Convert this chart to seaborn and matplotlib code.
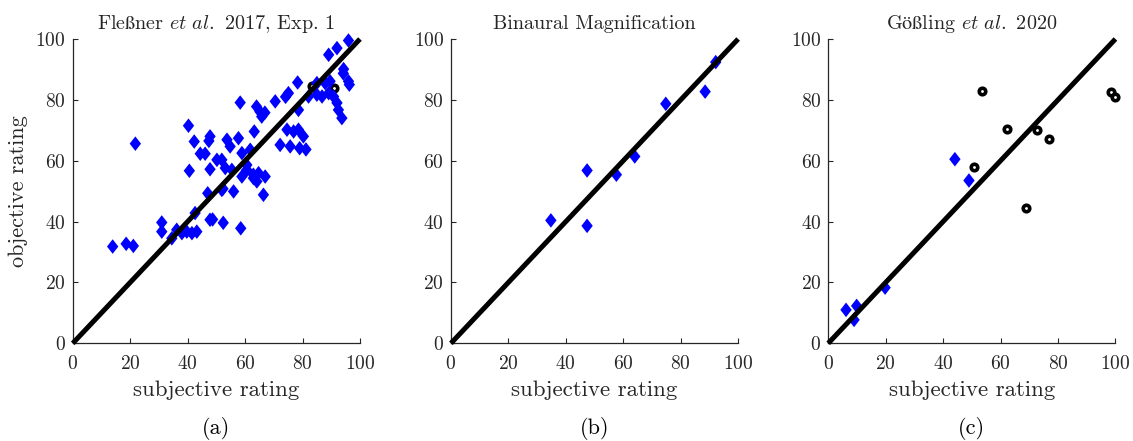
import numpy as np
import pandas as pd
import matplotlib
matplotlib.use("Agg")
import matplotlib.pyplot as plt
import seaborn as sns

# ---------------- data ----------------
# Panel (a): Fleßner et al. 2017, Exp. 1 (blue diamonds)
a_subj = [13.9, 18.6, 21.1, 21.8, 31.0, 31.0, 34.5, 36.2, 38.0, 39.7, 41.5, 43.2, 42.6,
          47.0, 47.8, 40.6, 48.7, 52.4, 58.5,
          58.3, 40.3, 42.3, 47.8, 47.4, 53.7, 54.8, 57.7, 63.2, 44.4, 46.1, 50.2, 51.9,
          47.8, 53.1, 55.4, 58.9, 61.8, 60.6, 58.9, 51.9, 52.3, 56.0, 62.9,
          78.3, 75.1, 74.1, 70.5, 64.0, 65.2, 66.9, 65.8, 78.6, 74.6, 76.9, 78.6, 80.3,
          72.2, 75.7, 79.0, 81.2, 60.6, 62.9, 64.7, 67.0, 64.1, 66.4,
          96.0, 92.0, 89.1, 94.3, 94.2, 96.0, 96.3, 85.0, 87.9, 89.6, 82.1, 85.0, 86.8,
          89.1, 90.8, 92.0, 92.5, 93.7]
a_obj = [31.8, 32.7, 32.0, 65.6, 39.7, 36.7, 34.5, 37.3, 36.2, 36.7, 36.2, 36.7, 42.8,
         49.3, 40.6, 56.7, 40.7, 39.6, 37.8,
         79.1, 71.5, 66.3, 68.0, 66.5, 66.9, 64.7, 67.4, 69.6, 62.3, 62.3, 60.3, 60.3,
         57.2, 57.6, 57.0, 62.5, 63.6, 58.6, 54.8, 50.4, 50.8, 49.9, 54.3,
         85.7, 82.2, 81.0, 79.5, 77.8, 76.1, 75.8, 74.5, 76.7, 70.2, 69.6, 70.2, 68.0,
         65.2, 64.7, 64.1, 63.7, 57.0, 55.4, 55.9, 54.8, 53.2, 48.8,
         99.5, 97.0, 94.8, 90.1, 88.7, 86.1, 85.0, 85.5, 85.5, 86.1, 81.1, 81.7, 81.1,
         82.2, 81.1, 79.0, 76.7, 74.0]
# Panel (a): black circles (mostly hidden)
a_circ_subj = [83.4, 91.1]
a_circ_obj = [84.6, 84.0]

# Panel (b): Binaural Magnification
b_subj = [34.8, 47.4, 47.4, 57.6, 64.0, 74.8, 88.5, 92.2]
b_obj = [40.4, 56.8, 38.6, 55.4, 61.4, 78.7, 82.7, 92.4]

# Panel (c): Gößling et al. 2020
c_dia_subj = [6.2, 9.9, 9.0, 19.8, 44.1, 49.0]
c_dia_obj = [11.0, 12.3, 7.7, 18.3, 60.5, 53.5]
c_circ_subj = [53.4, 50.8, 62.4, 72.7, 76.7, 69.0, 98.3, 100.0]
c_circ_obj = [82.9, 58.1, 70.4, 70.2, 67.3, 44.4, 82.5, 81.1]

diag = [0, 100]
ticks = [0, 20, 40, 60, 80, 100]
titles = ["Fle$\\mathrm{ß}$ner $\\mathit{et\\ al.}$ 2017, Exp. 1",
          "Binaural Magnification",
          "G$\\mathrm{öß}$ling $\\mathit{et\\ al.}$ 2020"]
panel_labels = ["(a)", "(b)", "(c)"]
xlabel = "subjective rating"
ylabel = "objective rating"

# ---------------- style ----------------
sns.set_style("ticks")
plt.rcParams["font.family"] = ["cmr10", "DejaVu Serif"]
plt.rcParams["mathtext.fontset"] = "cm"
plt.rcParams["axes.formatter.use_mathtext"] = True
plt.rcParams["xtick.direction"] = "in"
plt.rcParams["ytick.direction"] = "in"

BLUE = "#0000ff"
TXT = "#262626"
diamond = [(0, 1), (0.78, 0), (0, -1), (-0.78, 0), (0, 1)]

fig = plt.figure(figsize=(11.33, 4.41), dpi=100)
lefts = [0.0642, 0.398, 0.731]
width = 0.2535
bottom, top = 0.2215, 0.9116
axes = [fig.add_axes([l, bottom, width, top - bottom]) for l in lefts]

dia_sets = [(a_subj, a_obj), (b_subj, b_obj), (c_dia_subj, c_dia_obj)]
circ_sets = [(a_circ_subj, a_circ_obj), None, (c_circ_subj, c_circ_obj)]

for i, ax in enumerate(axes):
    circ = circ_sets[i]
    if circ is not None:
        sns.scatterplot(x=circ[0], y=circ[1], ax=ax, marker="o", s=22,
                        facecolor="white", edgecolor="black", linewidth=2.6,
                        zorder=2, clip_on=False)
    xs, ys = dia_sets[i]
    sns.scatterplot(x=xs, y=ys, ax=ax, marker=diamond, s=110, color=BLUE,
                    edgecolor="none", linewidth=0, zorder=3, clip_on=False)
    ax.plot(diag, diag, color="black", lw=3.6, zorder=4, clip_on=False,
            solid_capstyle="butt")
    ax.set_xlim(0, 100)
    ax.set_ylim(0, 100)
    ax.set_xticks(ticks)
    ax.set_yticks(ticks)
    ax.tick_params(axis="both", labelsize=14, length=3.5, width=0.8,
                   color=TXT, labelcolor=TXT)
    ax.tick_params(axis="x", pad=8.5)
    ax.tick_params(axis="y", pad=5)
    for s in ["left", "bottom"]:
        ax.spines[s].set_color(TXT)
        ax.spines[s].set_linewidth(0.9)
    sns.despine(ax=ax)
    ax.set_title(titles[i], fontsize=14.5, color=TXT, pad=7)
    ax.set_xlabel(xlabel, fontsize=16.5, color=TXT, labelpad=5)
    if i == 0:
        ax.set_ylabel(ylabel, fontsize=16, color=TXT, labelpad=5)
    cx = lefts[i] + width / 2
    fig.text(cx, 1 - 428 / 441, panel_labels[i], ha="center", va="center",
             fontsize=16, color="black")

fig.savefig("out.png", dpi=100)
